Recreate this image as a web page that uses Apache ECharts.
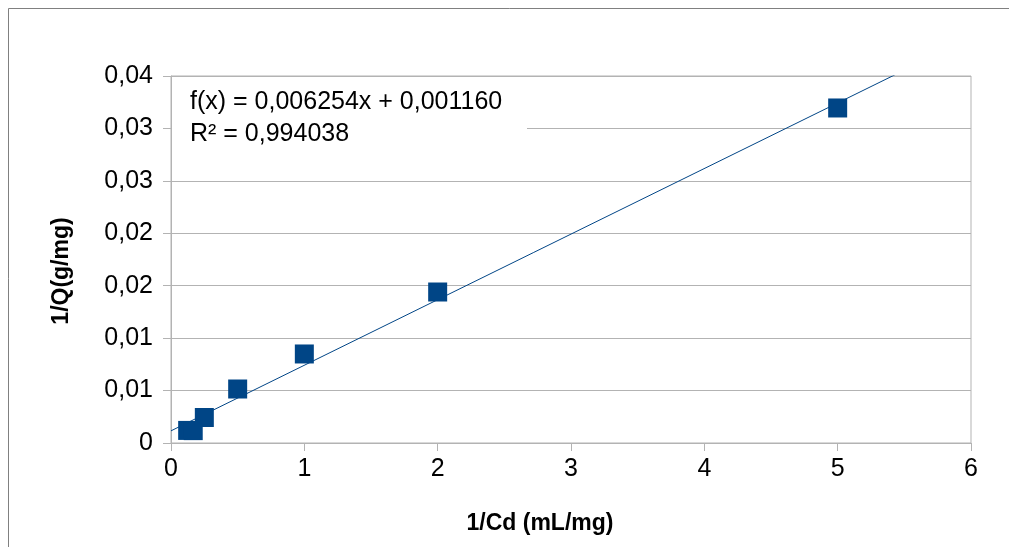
<!DOCTYPE html>
<html>
<head>
<meta charset="utf-8">
<script src="https://cdn.jsdelivr.net/npm/echarts@6/dist/echarts.min.js"></script>
<style>
  html, body { margin: 0; padding: 0; background: #ffffff; }
  #chart { width: 1009px; height: 547px; }
</style>
</head>
<body>
<div id="chart"></div>
<script>
// Langmuir linearisation: 1/Q against 1/Cd
const invCd = [0.125, 0.1667, 0.25, 0.5, 1, 2, 5];
const invQ = [0.00120, 0.00118, 0.00243, 0.00515, 0.00849, 0.0144, 0.03195];

// Linear fit reported on the chart
const fitSlope = 0.006254;
const fitIntercept = 0.001160;
const fitR2Text = 'R² = 0,994038';
const fitEqText = 'f(x) = 0,006254x + 0,001160';

const xTickLabels = ['0', '1', '2', '3', '4', '5', '6'];
const yTickLabels = ['0', '0,01', '0,01', '0,02', '0,02', '0,03', '0,03', '0,04'];

const xTitle = '1/Cd (mL/mg)';
const yTitle = '1/Q(g/mg)';

const xMin = 0, xMax = 6, xStep = 1;
const yMin = 0, yMax = 0.035, yStep = 0.005;

const trend = [
  [xMin, fitIntercept + fitSlope * xMin],
  [xMax, fitIntercept + fitSlope * xMax]
];

const FONT = '"Liberation Sans", Arial, sans-serif';
const AXIS_GREY = '#b3b3b3';
const MARK = '#004586';

const chart = echarts.init(document.getElementById('chart'), null, { renderer: 'canvas' });

chart.setOption({
  backgroundColor: '#ffffff',
  animation: false,
  grid: {
    left: 171, right: 38, top: 76, bottom: 104,
    show: true, borderColor: AXIS_GREY, borderWidth: 1,
    containLabel: false
  },
  xAxis: {
    type: 'value',
    min: xMin, max: xMax, interval: xStep,
    axisLine: { show: true, lineStyle: { color: AXIS_GREY, width: 1 } },
    axisTick: { show: true, length: 8, inside: false, lineStyle: { color: AXIS_GREY } },
    splitLine: { show: false },
    axisLabel: {
      margin: 14,
      color: '#000000', fontFamily: FONT, fontSize: 25,
      formatter: (v) => xTickLabels[Math.round((v - xMin) / xStep)]
    }
  },
  yAxis: {
    type: 'value',
    min: yMin, max: yMax, interval: yStep,
    axisLine: { show: true, lineStyle: { color: AXIS_GREY, width: 1 } },
    axisTick: { show: true, length: 8, inside: false, lineStyle: { color: AXIS_GREY } },
    splitLine: { show: true, lineStyle: { color: AXIS_GREY, width: 1 } },
    axisLabel: {
      margin: 18,
      color: '#000000', fontFamily: FONT, fontSize: 25,
      formatter: (v) => yTickLabels[Math.round((v - yMin) / yStep)]
    }
  },
  graphic: [
    {
      type: 'rect', silent: true, z: -1,
      shape: { x: 8.5, y: 8.5, width: 1100, height: 700 },
      style: { fill: 'none', stroke: '#808080', lineWidth: 1 }
    },
    {
      // white backing box behind the fit equation
      type: 'rect', silent: true, z: 5,
      shape: { x: 172, y: 84, width: 355, height: 66 },
      style: { fill: '#ffffff' }
    },
    {
      type: 'text', left: 190, top: 90, z: 6,
      style: { text: fitEqText, fill: '#000000', font: '25px ' + FONT }
    },
    {
      type: 'text', left: 190, top: 122, z: 6,
      style: { text: fitR2Text, fill: '#000000', font: '25px ' + FONT }
    },
    {
      type: 'text', x: 540, y: 524,
      style: {
        text: xTitle, fill: '#000000', font: 'bold 23px ' + FONT,
        align: 'center', verticalAlign: 'middle'
      }
    },
    {
      type: 'text', x: 62, y: 271, rotation: Math.PI / 2,
      style: {
        text: yTitle, fill: '#000000', font: 'bold 23px ' + FONT,
        align: 'center', verticalAlign: 'middle'
      }
    }
  ],
  series: [
    {
      type: 'line',
      data: trend,
      clip: true,
      showSymbol: false,
      symbol: 'none',
      lineStyle: { color: MARK, width: 1 },
      z: 2
    },
    {
      type: 'scatter',
      data: invCd.map((x, i) => [x, invQ[i]]),
      symbol: 'rect',
      symbolSize: 19,
      itemStyle: { color: MARK, opacity: 1 },
      z: 3
    }
  ]
});
</script>
</body>
</html>
